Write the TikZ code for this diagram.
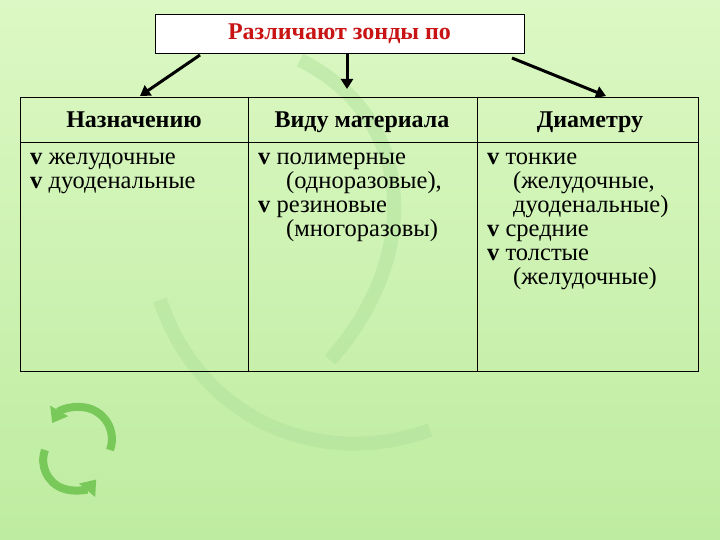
\documentclass[tikz,border=0pt]{standalone}
\usepackage{fontspec}
\setmainfont{Liberation Serif}
\usetikzlibrary{arrows.meta}
\definecolor{bg}{RGB}{190,236,160}
\definecolor{bgl}{RGB}{220,248,196}
\definecolor{deco}{RGB}{176,226,156}
\definecolor{titred}{RGB}{200,20,20}
\definecolor{ring}{RGB}{120,200,90}
\tikzset{
  cell/.style={font=\fontsize{24.5}{24}\selectfont, align=left, anchor=north west, inner sep=0pt},
  head/.style={font=\fontsize{24}{24}\selectfont\bfseries, anchor=base},
  arr/.style={line width=3pt, -{Triangle[length=10pt,width=12pt]}},
  rule/.style={draw=black, line width=0.6pt}
}
\begin{document}
\begin{tikzpicture}[x=1pt,y=-1pt]
\useasboundingbox (0,0) rectangle (720,540);
\shade[top color=bgl, bottom color=bg] (0,0) rectangle (720,540);
% faint decorative arrows
\draw[deco, line width=14pt, opacity=0.5] (300,60) .. controls (420,120) and (420,260) .. (330,360);
\draw[deco, line width=14pt, opacity=0.5] (160,300) .. controls (200,420) and (320,470) .. (430,430);
% circular arrows bottom-left
\draw[ring, line width=8pt, -{Triangle[length=14pt,width=20pt]}] (45,450) arc[start angle=200, end angle=40, radius=30];
\draw[ring, line width=8pt, -{Triangle[length=14pt,width=20pt]}] (110,450) arc[start angle=20, end angle=-150, radius=32];
% title
\node[draw=black, fill=white, line width=0.6pt, minimum width=369pt, minimum height=39pt, font=\fontsize{24}{24}\selectfont\bfseries, text=titred] (title) at (339.5,33.5) {Различают зонды по};
% table
\node[rule, minimum width=678pt, minimum height=274pt, inner sep=0pt] (tab) at (359,234) {};
\draw[rule] (20,142) -- (698,142);
\coordinate (c1t) at (248,97); \coordinate (c1b) at (248,371);
\coordinate (c2t) at (477,97); \coordinate (c2b) at (477,371);
\draw[rule] (c1t) -- (c1b);
\draw[rule] (c2t) -- (c2b);
\node[head] (h1) at (134,128) {Назначению};
\node[head] (h2) at (362,128) {Виду материала};
\node[head] (h3) at (590,128) {Диаметру};
\coordinate (a1) at (140,96); \coordinate (a2) at (347,89); \coordinate (a3) at (606,96);
\draw[arr] (200,55) -- (a1);
\draw[arr] (347,53) -- (a2);
\draw[arr] (512,58) -- (a3);
\node[cell] (t1) at (30,153) {\textbf{v} желудочные\\\textbf{v} дуоденальные};
\node[cell] (t2) at (258,153) {\textbf{v} полимерные\\\hspace*{28pt}(одноразовые),\\\textbf{v} резиновые\\\hspace*{28pt}(многоразовы)};
\node[cell] (t3) at (487,153) {\textbf{v} тонкие\\\hspace*{26pt}(желудочные,\\\hspace*{26pt}дуоденальные)\\\textbf{v} средние\\\textbf{v} толстые\\\hspace*{26pt}(желудочные)};
\end{tikzpicture}
\end{document}
